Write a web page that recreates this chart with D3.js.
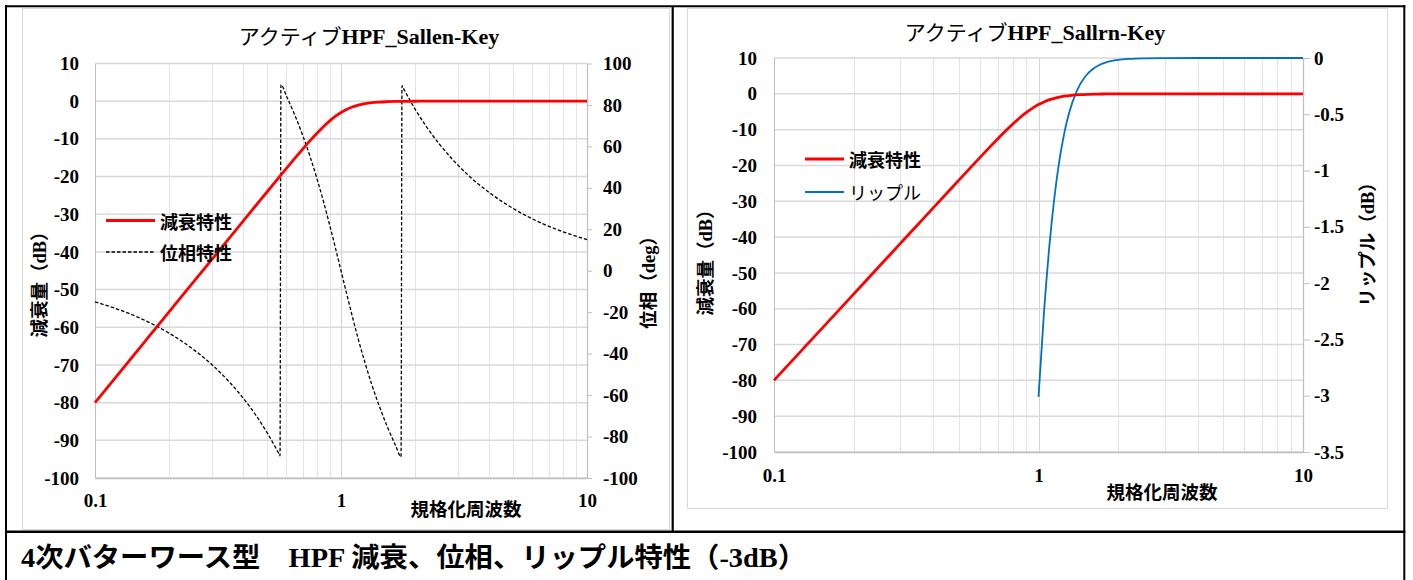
<!DOCTYPE html>
<html><head><meta charset="utf-8">
<script src="https://cdn.jsdelivr.net/npm/d3@7"></script>
<style>body{margin:0;background:#fff} svg{display:block}</style>
</head><body><svg id="c" width="1413" height="580"></svg>
<script>
// ---- data ----
const freq = [0.1, 0.15, 0.2, 0.25, 0.3, 0.35, 0.4, 0.45, 0.5, 0.55, 0.56, 0.565, 0.57, 0.6, 0.65, 0.7, 0.75, 0.8, 0.85, 0.9, 0.95, 1, 1.053, 1.111, 1.176, 1.25, 1.333, 1.429, 1.538, 1.667, 1.754, 1.77, 1.786, 1.818, 2, 2.222, 2.5, 2.857, 3.333, 4, 5, 6.667, 10];
const attenuation = [-80.0, -65.91, -55.92, -48.16, -41.83, -36.47, -31.83, -27.75, -24.10, -20.81, -20.19, -19.89, -19.58, -17.82, -15.10, -12.64, -10.41, -8.43, -6.69, -5.21, -3.99, -3.01, -2.21, -1.55, -1.05, -0.67, -0.41, -0.24, -0.14, -0.072, -0.048, -0.045, -0.042, -0.036, -0.017, -0.007, -0.003, -0.001, 0, 0, 0, 0, 0];
const phase = [-15.0, -22.5, -30.1, -37.8, -45.5, -53.4, -61.4, -69.6, -78.0, -86.7, -88.4, -89.3, 89.8, 84.3, 74.9, 65.1, 54.8, 44.1, 33.1, 21.9, 10.8, 0, -10.8, -21.9, -33.1, -44.1, -54.8, -65.1, -74.9, -84.3, -89.8, 89.3, 88.4, 86.7, 78.0, 69.6, 61.4, 53.4, 45.5, 37.8, 30.1, 22.5, 15.0];
const rippleFreq = [1, 1.05, 1.1, 1.15, 1.2, 1.25, 1.3, 1.4, 1.5, 1.6, 1.7, 1.8, 2, 2.2, 2.5, 3, 4, 5, 7, 10];
const ripple = [-3.01, -2.245, -1.663, -1.228, -0.908, -0.674, -0.502, -0.285, -0.166, -0.100, -0.062, -0.039, -0.017, -0.008, -0.003, -0.001, 0, 0, 0, 0];
const xTicks = [0.1, 1, 10];
const dbTicks = [10, 0, -10, -20, -30, -40, -50, -60, -70, -80, -90, -100];
const degTicks = [100, 80, 60, 40, 20, 0, -20, -40, -60, -80, -100];
const rippleTicks = [0, -0.5, -1, -1.5, -2, -2.5, -3, -3.5];

const titleLeft = ["アクティブ", "HPF_Sallen-Key"];
const titleRight = ["アクティブ", "HPF_Sallrn-Key"];
const xTitle = "規格化周波数";
const yTitleAtt = "減衰量（dB）";
const yTitlePhase = "位相（deg）";
const yTitleRipple = "リップル（dB）";
const legendAtt = "減衰特性";
const legendPhase = "位相特性";
const legendRipple = "リップル";
const caption = "4次バターワース型　HPF 減衰、位相、リップル特性（-3dB）";

// ---- styling ----
const FONT_NUM = '"Liberation Serif","Times New Roman",serif';
const FONT_JP = '"Noto Sans CJK JP","Noto Sans",sans-serif';
const FONT_MIX = '"Liberation Serif","Noto Sans CJK JP",serif';
const RED = '#ff0000', BLUE = '#0070c0', GRID = '#d9d9d9', GRIDMINOR = '#e4e4e4', AXIS = '#bfbfbf';

const svg = d3.select('#c');
svg.append('rect').attr('width', 1413).attr('height', 580).attr('fill', '#fff');

// chart area frames
svg.append('rect').attr('x', 22.5).attr('y', 8.5).attr('width', 647).attr('height', 521)
  .attr('fill', 'none').attr('stroke', GRID);
svg.append('rect').attr('x', 687.5).attr('y', 8.5).attr('width', 700).attr('height', 500)
  .attr('fill', 'none').attr('stroke', GRID);

const attData = freq.map((f, i) => [f, attenuation[i]]);
const phaseData = freq.map((f, i) => [f, phase[i]]);
const rippleData = rippleFreq.map((f, i) => [f, ripple[i]]);

function styleNum(sel) {
  sel.selectAll('text').attr('font-family', FONT_NUM).attr('font-size', 19)
    .attr('font-weight', 'bold').attr('fill', '#000');
}

function drawChart(o) {
  const g = svg.append('g');
  const x = d3.scaleLog().domain([0.1, 10]).range([o.left, o.right]);
  const y = d3.scaleLinear().domain([-100, 10]).range([o.bottom, o.top]);
  const y2 = d3.scaleLinear().domain(o.y2Domain).range([o.bottom, o.top]);

  // vertical gridlines (log minor ticks)
  g.append('g').selectAll('line').data(x.ticks()).join('line')
    .attr('x1', d => Math.round(x(d)) + 0.5).attr('x2', d => Math.round(x(d)) + 0.5)
    .attr('y1', o.top).attr('y2', o.bottom)
    .attr('stroke', d => (Math.abs(Math.log10(d) - Math.round(Math.log10(d))) < 1e-9) ? '#d4d4d4' : GRIDMINOR)
    .attr('stroke-width', 1);
  // horizontal gridlines
  g.append('g').selectAll('line').data(dbTicks).join('line')
    .attr('x1', o.left).attr('x2', o.right)
    .attr('y1', d => y(d)).attr('y2', d => y(d))
    .attr('stroke', GRID).attr('stroke-width', 1.5);

  // left axis
  const la = g.append('g').attr('transform', `translate(${o.left},0)`)
    .call(d3.axisLeft(y).tickValues(dbTicks).tickSize(0).tickPadding(o.leftPad).tickFormat(d => String(d)));
  la.select('.domain').attr('stroke', AXIS);
  styleNum(la);

  // right axis
  const ra = g.append('g').attr('transform', `translate(${o.right},0)`)
    .call(d3.axisRight(y2).tickValues(o.y2Ticks).tickSize(o.rTick).tickSizeOuter(0)
      .tickPadding(o.rPad).tickFormat(d => String(d)));
  ra.select('.domain').attr('stroke', AXIS).attr('stroke-width', 1.2);
  ra.selectAll('.tick line').attr('stroke', AXIS);
  styleNum(ra);

  // bottom axis
  const ba = g.append('g').attr('transform', `translate(0,${o.bottom})`)
    .call(d3.axisBottom(x).tickValues(xTicks).tickSize(0).tickSizeOuter(0)
      .tickPadding(o.bPad).tickFormat(d => String(d)));
  ba.select('.domain').attr('stroke', AXIS).attr('stroke-width', 1.5);
  styleNum(ba);

  return { g, x, y, y2 };
}

// ---- left chart ----
const L = drawChart({ left: 95, right: 587, top: 63.5, bottom: 478, y2Domain: [-100, 100], y2Ticks: degTicks,
  leftPad: 16, rTick: 5, rPad: 11, bPad: 16 });
L.g.append('path').datum(phaseData)
  .attr('d', d3.line().x(d => L.x(d[0])).y(d => L.y2(d[1])).curve(d3.curveMonotoneX))
  .attr('fill', 'none').attr('stroke', '#000').attr('stroke-width', 1.3).attr('stroke-dasharray', '3.5,2');
L.g.append('path').datum(attData)
  .attr('d', d3.line().x(d => L.x(d[0])).y(d => L.y(d[1])).curve(d3.curveMonotoneX))
  .attr('fill', 'none').attr('stroke', RED).attr('stroke-width', 2.8);

// ---- right chart ----
const R = drawChart({ left: 774, right: 1303, top: 58, bottom: 452, y2Domain: [-3.5, 0], y2Ticks: rippleTicks,
  leftPad: 17, rTick: 7, rPad: 4, bPad: 17 });
R.g.append('path').datum(rippleData)
  .attr('d', d3.line().x(d => R.x(d[0])).y(d => R.y2(d[1])).curve(d3.curveMonotoneX))
  .attr('fill', 'none').attr('stroke', BLUE).attr('stroke-width', 1.8);
R.g.append('path').datum(attData)
  .attr('d', d3.line().x(d => R.x(d[0])).y(d => R.y(d[1])).curve(d3.curveMonotoneX))
  .attr('fill', 'none').attr('stroke', RED).attr('stroke-width', 2.8);

// ---- titles ----
function title(cx, by, parts) {
  const t = svg.append('text').attr('x', cx).attr('y', by).attr('text-anchor', 'middle')
    .attr('font-family', FONT_MIX).attr('font-size', 22).attr('fill', '#000');
  t.append('tspan').attr('font-family', FONT_JP).attr('font-weight', 'normal').attr('font-size', 21).text(parts[0]);
  t.append('tspan').attr('font-weight', 'bold').text(parts[1]);
}
title(369, 43.5, titleLeft);
title(1035, 39.5, titleRight);

// ---- axis titles ----
function xt(cx, cy, s) {
  svg.append('text').attr('x', cx).attr('y', cy).attr('text-anchor', 'middle').attr('dominant-baseline', 'central')
    .attr('font-family', FONT_JP).attr('font-weight', 'bold').attr('font-size', 18.5).attr('fill', '#000').text(s);
}
xt(466, 508, xTitle);
xt(1162, 490.5, xTitle);

function yt(cx, cy, s) {
  svg.append('text').attr('transform', `translate(${cx},${cy}) rotate(-90)`)
    .attr('text-anchor', 'middle').attr('dominant-baseline', 'central')
    .attr('font-family', FONT_MIX).attr('font-weight', 'bold').attr('font-size', 18.5).attr('fill', '#000').text(s);
}
yt(40, 280, yTitleAtt);
yt(649, 278, yTitlePhase);
yt(706, 258, yTitleAtt);
yt(1368, 240, yTitleRipple);

// ---- legends ----
function legend(x1, x2, cy, stroke, w, dash, label, weight) {
  svg.append('line').attr('x1', x1).attr('x2', x2).attr('y1', cy).attr('y2', cy)
    .attr('stroke', stroke).attr('stroke-width', w).attr('stroke-dasharray', dash);
  svg.append('text').attr('x', x2 + 5).attr('y', cy).attr('dominant-baseline', 'central')
    .attr('font-family', FONT_JP).attr('font-weight', weight).attr('font-size', 18).attr('fill', '#000').text(label);
}
legend(106, 155, 220.5, RED, 2.8, null, legendAtt, 'bold');
legend(106, 155, 252, '#000', 1.3, '3.5,2', legendPhase, 'bold');
legend(805, 844, 159, RED, 2.8, null, legendAtt, 'bold');
legend(805, 844, 192, BLUE, 1.8, null, legendRipple, 'normal');

// ---- caption ----
svg.append('text').attr('x', 21).attr('y', 567)
  .attr('font-family', FONT_MIX).attr('font-weight', 'bold').attr('font-size', 27.5).attr('fill', '#000')
  .attr('textLength', 785).attr('lengthAdjust', 'spacingAndGlyphs').text(caption);

// ---- table borders ----
const B = svg.append('g').attr('stroke', '#000').attr('fill', 'none');
B.append('line').attr('x1', 6).attr('x2', 6).attr('y1', 5).attr('y2', 580).attr('stroke-width', 2);
B.append('line').attr('x1', 1404.3).attr('x2', 1404.3).attr('y1', 5).attr('y2', 580).attr('stroke-width', 2);
B.append('line').attr('x1', 5).attr('x2', 1405.3).attr('y1', 6.3).attr('y2', 6.3).attr('stroke-width', 2);
B.append('line').attr('x1', 672.7).attr('x2', 672.7).attr('y1', 6).attr('y2', 531.7).attr('stroke-width', 2.2);
B.append('line').attr('x1', 5).attr('x2', 1405.3).attr('y1', 531.7).attr('y2', 531.7).attr('stroke-width', 2.4);
</script></body></html>
